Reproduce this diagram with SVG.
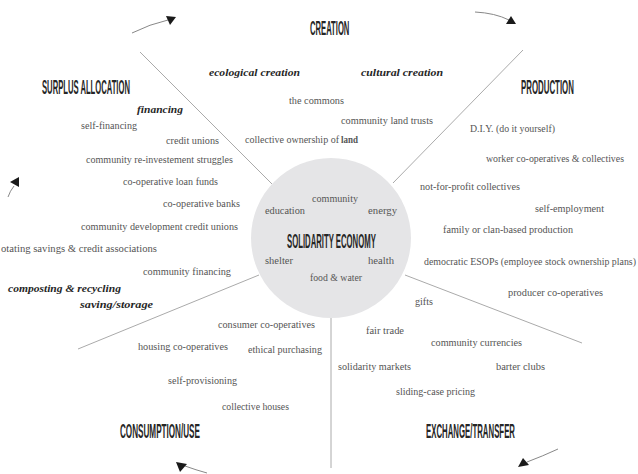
<svg xmlns="http://www.w3.org/2000/svg" width="638" height="474" viewBox="0 0 638 474">
<style>
.bg{fill:#ffffff}
.t{font-family:"Liberation Serif","DejaVu Serif",serif;font-size:10px;fill:#555}
.b{font-family:"Liberation Serif","DejaVu Serif",serif;font-size:10.5px;font-weight:bold;font-style:italic;fill:#262626}
.h{font-family:"Liberation Sans","DejaVu Sans",sans-serif;font-size:20px;font-weight:bold;fill:#262626}
.ln{stroke:#aaaaaa;stroke-width:1;fill:none}
.cv{stroke:#888888;stroke-width:1;fill:none}
.hd{fill:#1a1a1a}
.hub{fill:#e5e5e7}
</style>
<rect class="bg" x="0" y="0" width="638" height="474"/>
<g id="connectors">
<line class="ln" x1="140" y1="52" x2="272" y2="184"/>
<line class="ln" x1="523" y1="50" x2="393" y2="183"/>
<line class="ln" x1="78" y1="349" x2="259" y2="275"/>
<line class="ln" x1="405" y1="275" x2="582" y2="343"/>
<line class="ln" x1="331" y1="318" x2="331" y2="468"/>
<path class="cv" d="M132,33 Q150,24 168,20"/>
<polygon class="hd" points="166,16 176,17 170,25"/>
<path class="cv" d="M475,12 Q495,13 509,20"/>
<polygon class="hd" points="511,16 506,24 516,24"/>
<path class="cv" d="M8,197 Q10,191 14,186"/>
<polygon class="hd" points="10,182 19,177 19,187"/>
<path class="cv" d="M207,473 Q196,470 185,466"/>
<polygon class="hd" points="176,462 187,464 180,472"/>
<path class="cv" d="M558,449 Q543,456 527,462"/>
<polygon class="hd" points="518,467 523,458 529,465"/>
</g>
<g id="hub">
<circle class="hub" cx="331" cy="238" r="80"/>
<text class="h" transform="translate(287,248) scale(0.387,1)">SOLIDARITY ECONOMY</text>
<text class="t" x="312" y="202" textLength="46" lengthAdjust="spacingAndGlyphs">community</text>
<text class="t" x="265" y="214" textLength="40" lengthAdjust="spacingAndGlyphs">education</text>
<text class="t" x="368" y="214" textLength="29" lengthAdjust="spacingAndGlyphs">energy</text>
<text class="t" x="265" y="264" textLength="28" lengthAdjust="spacingAndGlyphs">shelter</text>
<text class="t" x="368" y="264" textLength="26" lengthAdjust="spacingAndGlyphs">health</text>
<text class="t" x="310" y="281" textLength="52" lengthAdjust="spacingAndGlyphs">food &amp; water</text>
</g>
<g id="creation">
<text class="h" transform="translate(310,35) scale(0.383,1)">CREATION</text>
<text class="b" x="209" y="76" textLength="91" lengthAdjust="spacingAndGlyphs">ecological creation</text>
<text class="b" x="361" y="76" textLength="82" lengthAdjust="spacingAndGlyphs">cultural creation</text>
<text class="t" x="289" y="104" textLength="55" lengthAdjust="spacingAndGlyphs">the commons</text>
<text class="t" x="341" y="124" textLength="92" lengthAdjust="spacingAndGlyphs">community land trusts</text>
<text class="t" x="245" y="143" textLength="94" lengthAdjust="spacingAndGlyphs">collective ownership of</text>
<text class="t" x="341" y="143" font-weight="bold" fill="#333" textLength="17" lengthAdjust="spacingAndGlyphs">land</text>
</g>
<g id="surplus-allocation">
<text class="h" transform="translate(42,94) scale(0.383,1)">SURPLUS ALLOCATION</text>
<text class="b" x="137" y="113" textLength="46" lengthAdjust="spacingAndGlyphs">financing</text>
<text class="t" x="81" y="129" textLength="56" lengthAdjust="spacingAndGlyphs">self-financing</text>
<text class="t" x="166" y="144" textLength="53" lengthAdjust="spacingAndGlyphs">credit unions</text>
<text class="t" x="86" y="163" textLength="147" lengthAdjust="spacingAndGlyphs">community re-investement struggles</text>
<text class="t" x="123" y="185" textLength="95" lengthAdjust="spacingAndGlyphs">co-operative loan funds</text>
<text class="t" x="163" y="207" textLength="77" lengthAdjust="spacingAndGlyphs">co-operative banks</text>
<text class="t" x="81" y="230" textLength="157" lengthAdjust="spacingAndGlyphs">community development credit unions</text>
<text class="t" x="1" y="252" textLength="156" lengthAdjust="spacingAndGlyphs">otating savings &amp; credit associations</text>
<text class="t" x="143" y="275" textLength="88" lengthAdjust="spacingAndGlyphs">community financing</text>
<text class="b" x="8" y="292" textLength="113" lengthAdjust="spacingAndGlyphs">composting &amp; recycling</text>
<text class="b" x="80" y="308" textLength="73" lengthAdjust="spacingAndGlyphs">saving/storage</text>
</g>
<g id="production">
<text class="h" transform="translate(521,94) scale(0.394,1)">PRODUCTION</text>
<text class="t" x="470" y="132" textLength="85" lengthAdjust="spacingAndGlyphs">D.I.Y. (do it yourself)</text>
<text class="t" x="486" y="162" textLength="138" lengthAdjust="spacingAndGlyphs">worker co-operatives &amp; collectives</text>
<text class="t" x="420" y="190" textLength="100" lengthAdjust="spacingAndGlyphs">not-for-profit collectives</text>
<text class="t" x="535" y="212" textLength="69" lengthAdjust="spacingAndGlyphs">self-employment</text>
<text class="t" x="443" y="233" textLength="130" lengthAdjust="spacingAndGlyphs">family or clan-based production</text>
<text class="t" x="424" y="265" font-size="9.8" textLength="212" lengthAdjust="spacingAndGlyphs">democratic ESOPs (employee stock ownership plans)</text>
<text class="t" x="508" y="296" textLength="95" lengthAdjust="spacingAndGlyphs">producer co-operatives</text>
</g>
<g id="exchange-transfer">
<text class="h" transform="translate(426,438) scale(0.391,1)">EXCHANGE/TRANSFER</text>
<text class="t" x="415" y="305" textLength="18" lengthAdjust="spacingAndGlyphs">gifts</text>
<text class="t" x="366" y="334" textLength="38" lengthAdjust="spacingAndGlyphs">fair trade</text>
<text class="t" x="431" y="346" textLength="91" lengthAdjust="spacingAndGlyphs">community currencies</text>
<text class="t" x="338" y="370" textLength="73" lengthAdjust="spacingAndGlyphs">solidarity markets</text>
<text class="t" x="496" y="370" textLength="49" lengthAdjust="spacingAndGlyphs">barter clubs</text>
<text class="t" x="396" y="395" textLength="79" lengthAdjust="spacingAndGlyphs">sliding-case pricing</text>
</g>
<g id="consumption-use">
<text class="h" transform="translate(120,438) scale(0.407,1)">CONSUMPTION/USE</text>
<text class="t" x="218" y="328" textLength="97" lengthAdjust="spacingAndGlyphs">consumer co-operatives</text>
<text class="t" x="138" y="350" textLength="90" lengthAdjust="spacingAndGlyphs">housing co-operatives</text>
<text class="t" x="248" y="353" textLength="74" lengthAdjust="spacingAndGlyphs">ethical purchasing</text>
<text class="t" x="168" y="384" textLength="69" lengthAdjust="spacingAndGlyphs">self-provisioning</text>
<text class="t" x="222" y="410" textLength="67" lengthAdjust="spacingAndGlyphs">collective houses</text>
</g>
</svg>
